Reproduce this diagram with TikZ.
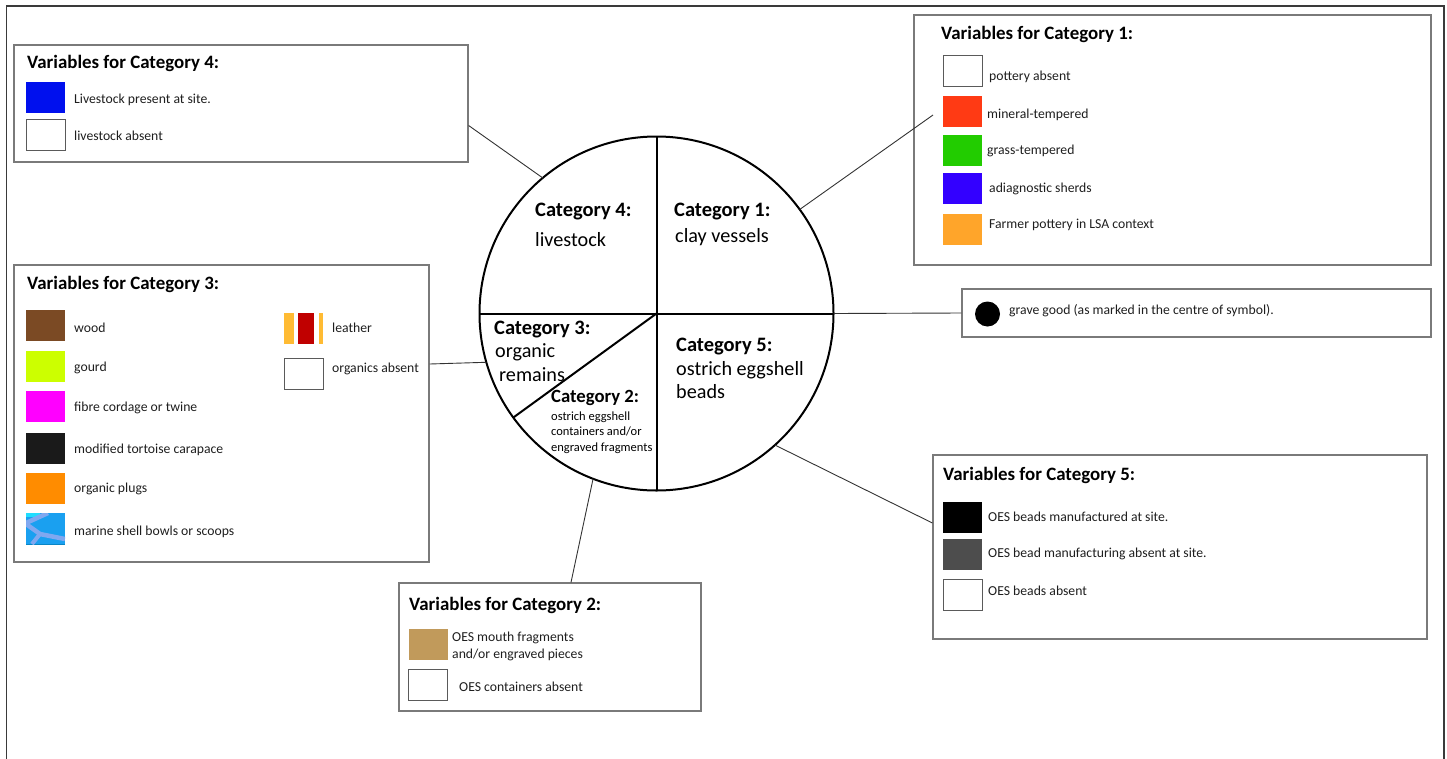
\documentclass[tikz,border=0pt]{standalone}
\usepackage{fontspec}
\setmainfont{Carlito}
\usepackage{tikz}
\usetikzlibrary{positioning}

\definecolor{framegray}{HTML}{3A3A3A}
\definecolor{boxgray}{HTML}{7A7A7A}
\definecolor{swatchgray}{HTML}{5A5A5A}
\definecolor{linkgray}{HTML}{333333}
\definecolor{textgray}{HTML}{1E1E1E}
\definecolor{livestockblue}{HTML}{0010EE}
\definecolor{mineralred}{HTML}{FF3A14}
\definecolor{grassgreen}{HTML}{22CC00}
\definecolor{sherdviolet}{HTML}{3300FF}
\definecolor{farmerorange}{HTML}{FFA52A}
\definecolor{woodbrown}{HTML}{7B4A24}
\definecolor{gourdlime}{HTML}{CCFF00}
\definecolor{fibremagenta}{HTML}{FF00FF}
\definecolor{tortoiseblack}{HTML}{1A1A1A}
\definecolor{plugorange}{HTML}{FF8C00}
\definecolor{shellblue}{HTML}{1AA0F0}
\definecolor{shelldark}{HTML}{0A86C6}
\definecolor{shelllight}{HTML}{80A8F0}
\definecolor{shellcyan}{HTML}{20DDFF}
\definecolor{leatheryellow}{HTML}{FFBB33}
\definecolor{leatherred}{HTML}{C00000}
\definecolor{oestan}{HTML}{C19A5B}
\definecolor{beadgray}{HTML}{4D4D4D}

\begin{document}
\begin{tikzpicture}[x=1pt, y=-1pt,
    legend/.style = {draw=boxgray, line width=1.2pt, inner sep=0pt},
    swatch/.style = {minimum width=39pt, minimum height=31pt, inner sep=0pt, outer sep=0pt},
    blank/.style = {swatch, draw=swatchgray, line width=1pt, fill=white},
    item/.style = {anchor=west, inner sep=0pt, text=textgray, font=\fontsize{13.7}{17}\selectfont},
    head/.style = {anchor=west, inner sep=0pt, font=\bfseries\fontsize{18.9}{22}\selectfont},
    cathead/.style = {anchor=west, inner sep=0pt, font=\bfseries\fontsize{20.5}{24}\selectfont},
    catbody/.style = {anchor=west, inner sep=0pt, align=left, font=\fontsize{20.2}{23}\selectfont},
    link/.style = {draw=linkgray, line width=0.9pt}]
    \useasboundingbox (0,0) rectangle (1447,758);
    \draw[framegray, line width=1.6pt] (6.5,770) -- (6.5,6) -- (1444,6) -- (1444,770);

    \node[circle, draw, line width=2pt, minimum size=354pt, inner sep=0pt, outer sep=0pt] (pie) at (656.5,313.5) {};
    \draw[line width=2pt] (pie.north) -- (pie.south);
    \draw[line width=2pt] (pie.west) -- (pie.east);
    \draw[line width=2pt] (pie.center) -- (pie.216);

    \node[cathead] (c4head) at (535,212) {Category 4:};
    \node[catbody] (c4body) at (535,240) {livestock};
    \node[cathead] (c1head) at (674,212) {Category 1:};
    \node[catbody] (c1body) at (675,237) {clay vessels};
    \node[cathead] (c3head) at (494,330) {Category 3:};
    \node[catbody] (c3body) at (495,352) {organic};
    \node[catbody] (c3more) at (499,375) {remains};
    \node[anchor=west, inner sep=0pt, font=\bfseries\fontsize{18.7}{22}\selectfont] (c2head) at (551,398) {Category 2:};
    \node[anchor=west, inner sep=0pt, align=left, font=\fontsize{12.5}{15.5}\selectfont] (c2body) at (551,432.5) {ostrich eggshell\\containers and/or\\engraved fragments};
    \node[cathead] (c5head) at (676,347) {Category 5:};
    \node[catbody] (c5body) at (676,380.5) {ostrich eggshell\\beads};

    \node[legend, minimum width=454pt, minimum height=117pt] (box4) at (241,103.5) {};
    \node[head] (t4) at (27,63) {Variables for Category 4:};
    \node[swatch, fill=livestockblue] (s4a) at (45.5,97.5) {};
    \node[item] (l4a) at (74,100) {Livestock present at site.};
    \node[blank] (s4b) at (45.5,135) {};
    \node[item] (l4b) at (74,136) {livestock absent};

    \node[legend, minimum width=517pt, minimum height=250pt] (box1) at (1172.5,140) {};
    \node[head] (t1) at (941,34) {Variables for Category 1:};
    \node[blank] (s1a) at (962.5,71) {};
    \node[item] (l1a) at (989,77) {pottery absent};
    \node[swatch, fill=mineralred] (s1b) at (962.5,111.5) {};
    \node[item] (l1b) at (987,115) {mineral-tempered};
    \node[swatch, fill=grassgreen] (s1c) at (962.5,150.5) {};
    \node[item] (l1c) at (987,151) {grass-tempered};
    \node[swatch, fill=sherdviolet] (s1d) at (962.5,188.5) {};
    \node[item] (l1d) at (989,189) {adiagnostic sherds};
    \node[swatch, fill=farmerorange] (s1e) at (962.5,229) {};
    \node[item] (l1e) at (989,225) {Farmer pottery in LSA context};

    \node[legend, minimum width=415pt, minimum height=297pt] (box3) at (221.5,413.5) {};
    \node[head] (t3) at (27,284) {Variables for Category 3:};
    \node[swatch, fill=woodbrown] (s3a) at (45.5,325.5) {};
    \node[item] (l3a) at (74,328) {wood};
    \node[swatch, fill=gourdlime] (s3b) at (45.5,366.5) {};
    \node[item] (l3b) at (74,368) {gourd};
    \node[swatch, fill=fibremagenta] (s3c) at (45.5,406.5) {};
    \node[item] (l3c) at (74,408) {fibre cordage or twine};
    \node[swatch, fill=tortoiseblack] (s3d) at (45.5,448.5) {};
    \node[item] (l3d) at (74,450) {modified tortoise carapace};
    \node[swatch, fill=plugorange] (s3e) at (45.5,488.5) {};
    \node[item] (l3e) at (74,489) {organic plugs};
    \node[swatch, fill=shellblue, path picture={
        \fill[shelldark] ([yshift=-12pt]path picture bounding box.south west) rectangle (path picture bounding box.south east);
        \fill[shellcyan] (path picture bounding box.north west) rectangle ([xshift=14pt, yshift=-4pt]path picture bounding box.north west);
        \draw[shelllight, line width=4.5pt] ([xshift=22pt]path picture bounding box.north west) -- ([yshift=-10pt]path picture bounding box.north west);
        \draw[shelllight, line width=4.5pt] ([yshift=-11pt]path picture bounding box.north west) -- ([xshift=14pt, yshift=-21pt]path picture bounding box.north west) -- ([yshift=-26pt]path picture bounding box.north east);
        \draw[shelllight, line width=4pt] ([xshift=14pt, yshift=-21pt]path picture bounding box.north west) -- ([xshift=6pt]path picture bounding box.south west);
    }] (s3f) at (45.5,528.5) {};
    \node[item] (l3f) at (74,532) {marine shell bowls or scoops};
    \node[swatch, path picture={
        \fill[leatheryellow] (path picture bounding box.south west) rectangle ([xshift=10pt]path picture bounding box.north west);
        \fill[leatherred] ([xshift=14pt]path picture bounding box.south west) rectangle ([xshift=30pt]path picture bounding box.north west);
        \fill[leatheryellow] ([xshift=35pt]path picture bounding box.south west) rectangle (path picture bounding box.north east);
    }] (s3g) at (303.5,328.5) {};
    \node[item] (l3g) at (332,328) {leather};
    \node[blank] (s3h) at (303.5,373.5) {};
    \node[item] (l3h) at (332,369) {organics absent};

    \node[legend, minimum width=302pt, minimum height=128pt] (box2) at (550,647) {};
    \node[head] (t2) at (409,605) {Variables for Category 2:};
    \node[swatch, fill=oestan] (s2a) at (428,644.5) {};
    \node[item, align=left] (l2a) at (452,646.5) {OES mouth fragments\\and/or engraved pieces};
    \node[blank] (s2b) at (428,684.5) {};
    \node[item] (l2b) at (459,687) {OES containers absent};

    \node[legend, minimum width=494pt, minimum height=184pt] (box5) at (1180,547) {};
    \node[head] (t5) at (943,475) {Variables for Category 5:};
    \node[swatch, fill=black] (s5a) at (962.5,517) {};
    \node[item] (l5a) at (988,517) {OES beads manufactured at site.};
    \node[swatch, fill=beadgray] (s5b) at (962.5,554.5) {};
    \node[item] (l5b) at (988,554) {OES bead manufacturing absent at site.};
    \node[blank] (s5c) at (962.5,595) {};
    \node[item] (l5c) at (988,591) {OES beads absent};

    \node[legend, minimum width=469pt, minimum height=48pt] (grave) at (1196.5,313) {};
    \node[circle, fill=black, minimum size=25pt, inner sep=0pt] (dot) at (987.5,314) {};
    \node[item] (lg) at (1009,311) {grave good (as marked in the centre of symbol).};

    \coordinate (c1tip) at (933,115);
    \draw[link] (pie.130.9) -- ([yshift=-22pt]box4.east);
    \draw[link] (pie.36.3) -- (c1tip);
    \draw[link] (pie.196.6) -- ([yshift=49.5pt]box3.east);
    \draw[link] (pie.east) -- (grave.west);
    \draw[link] (pie.312) -- ([yshift=24pt]box5.west);
    \draw[link] (pie.249.3) -- ([xshift=21pt]box2.north);
\end{tikzpicture}
\end{document}
